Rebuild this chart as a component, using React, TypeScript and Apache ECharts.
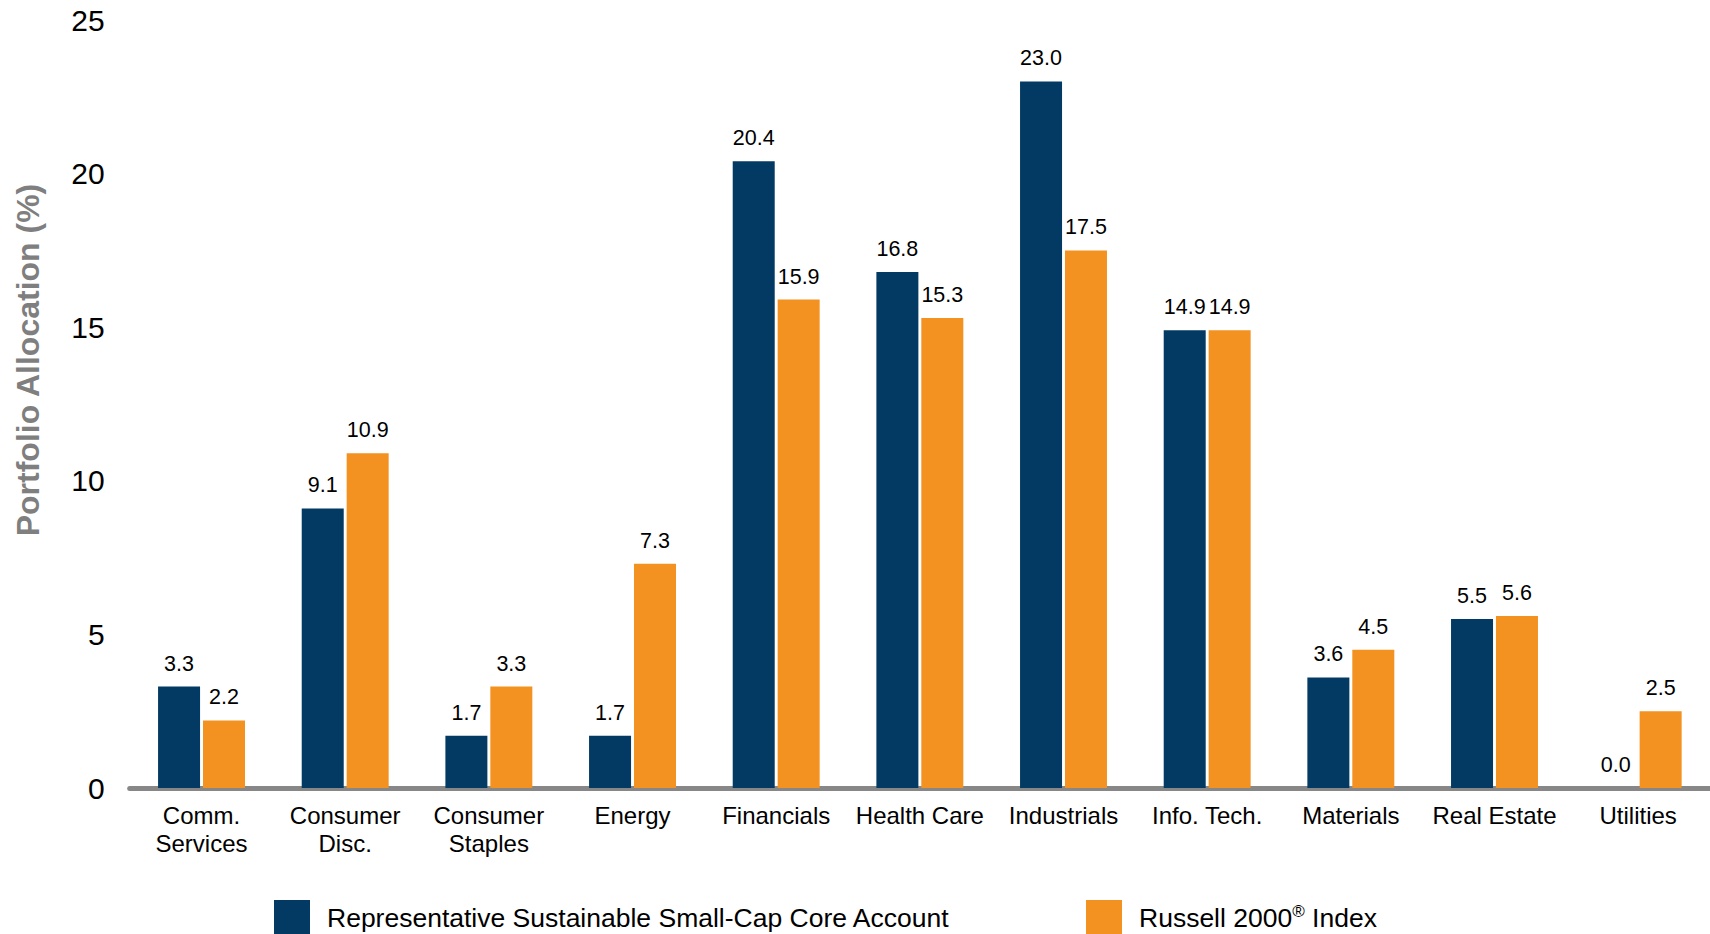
import React, { useEffect, useRef } from "react";
import * as echarts from "echarts";

const categories = [
  "Comm.\nServices",
  "Consumer\nDisc.",
  "Consumer\nStaples",
  "Energy",
  "Financials",
  "Health Care",
  "Industrials",
  "Info. Tech.",
  "Materials",
  "Real Estate",
  "Utilities",
];
const accountValues = [3.3, 9.1, 1.7, 1.7, 20.4, 16.8, 23.0, 14.9, 3.6, 5.5, 0.0];
const indexValues = [2.2, 10.9, 3.3, 7.3, 15.9, 15.3, 17.5, 14.9, 4.5, 5.6, 2.5];
const seriesNames = ["Representative Sustainable Small-Cap Core Account", "Russell 2000® Index"];
const yTicks = [0, 5, 10, 15, 20, 25];
const yTitle = "Portfolio Allocation (%)";

const NAVY = "#033A63";
const ORANGE = "#F39220";
const FONT = "'Liberation Sans', Arial, sans-serif";

export default function App() {
  const ref = useRef<HTMLDivElement>(null);
  useEffect(() => {
    if (!ref.current) return;
    const chart = echarts.init(ref.current, undefined, { renderer: "svg" });
    const labelCfg = {
      show: true,
      position: "top",
      distance: 12,
      fontSize: 21.5,
      color: "#000",
      fontFamily: FONT,
      formatter: (p: any) => Number(p.value).toFixed(1),
    };
    const legendText = {
      fontSize: 26.5,
      color: "#000",
      fontFamily: FONT,
      padding: [0, 0, 0, 12],
      rich: {
        n: { fontSize: 26.5, lineHeight: 30, color: "#000", fontFamily: FONT },
        sup: { fontSize: 17, lineHeight: 17, color: "#000", fontFamily: FONT, verticalAlign: "top" },
      },
    };
    chart.setOption({
      animation: false,
      textStyle: { fontFamily: FONT },
      grid: { left: 129.7, top: 20, width: 1584, height: 768, containLabel: false },
      legend: [
        {
          data: [seriesNames[0]],
          left: 274,
          top: 900,
          padding: 0,
          itemWidth: 36,
          itemHeight: 36,
          icon: "rect",
          textStyle: legendText,
          formatter: (name: string) => `{n|${name}}`,
        },
        {
          data: [seriesNames[1]],
          left: 1086,
          top: 900,
          padding: 0,
          itemWidth: 36,
          itemHeight: 36,
          icon: "rect",
          textStyle: legendText,
          formatter: (name: string) => {
            const parts = name.split("®");
            return `{n|${parts[0]}}{sup|®}{n|${parts[1]}}`;
          },
        },
      ],
      xAxis: {
        type: "category",
        data: categories,
        axisLine: { show: true, lineStyle: { color: "#878787", width: 5 } },
        axisTick: { show: false },
        axisLabel: {
          fontSize: 24,
          lineHeight: 28,
          color: "#000",
          margin: 13,
          interval: 0,
          fontFamily: FONT,
        },
      },
      yAxis: {
        type: "value",
        min: yTicks[0],
        max: yTicks[yTicks.length - 1],
        interval: yTicks[1] - yTicks[0],
        splitLine: { show: false },
        axisLine: { show: false },
        axisTick: { show: false },
        axisLabel: { fontSize: 30, color: "#000", margin: 25, fontFamily: FONT },
      },
      graphic: [
        {
          type: "text",
          x: 28,
          y: 360,
          rotation: Math.PI / 2,
          style: {
            text: yTitle,
            fontSize: 32,
            fontWeight: "bold",
            fill: "#7F7F7F",
            fontFamily: FONT,
            align: "center",
            verticalAlign: "middle",
          },
        },
      ],
      series: [
        {
          name: seriesNames[0],
          type: "bar",
          data: accountValues,
          barWidth: 42,
          barGap: "7%",
          itemStyle: { color: NAVY },
          label: labelCfg,
        },
        {
          name: seriesNames[1],
          type: "bar",
          data: indexValues,
          barWidth: 42,
          barGap: "7%",
          itemStyle: { color: ORANGE },
          label: labelCfg,
        },
      ],
    });
    return () => chart.dispose();
  }, []);
  return (
    <div
      ref={ref}
      style={{ position: "fixed", left: 0, top: 0, width: 1710, height: 934, background: "#fff" }}
    />
  );
}
